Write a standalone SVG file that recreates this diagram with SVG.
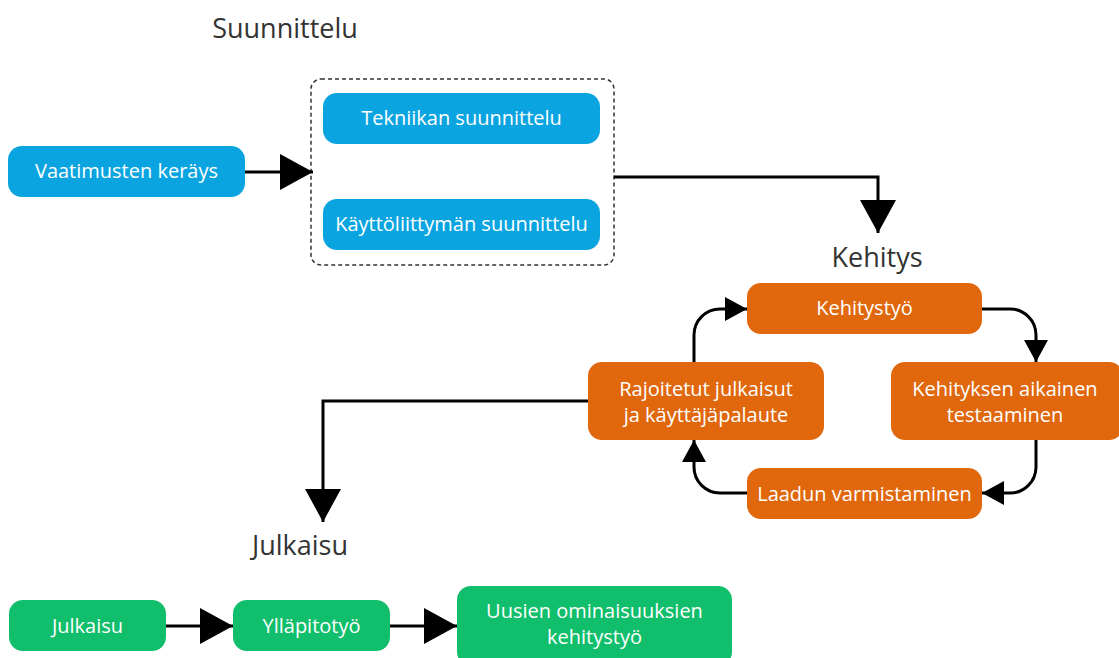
<svg xmlns="http://www.w3.org/2000/svg" width="1119" height="658" viewBox="0 0 1119 658">
  <style>
    .node text { font-family: "Open Sans", "Noto Sans", sans-serif; font-size: 20px; fill: #ffffff; text-anchor: middle; }
    .blue rect { fill: #0aa5e0; }
    .orange rect { fill: #e0670c; }
    .green rect { fill: #10be6b; }
    .heading { font-family: "Open Sans", "Noto Sans", sans-serif; font-size: 27px; fill: #333333; text-anchor: middle; }
    .conn { fill: none; stroke: #000000; stroke-width: 3; }
    .big { marker-end: url(#bigArrow); }
    .small { marker-end: url(#smallArrow); }
  </style>
  <defs>
    <marker id="bigArrow" markerUnits="userSpaceOnUse" markerWidth="34" markerHeight="38" refX="33" refY="19" orient="auto">
      <path d="M0,1 L33,19 L0,37 z" fill="#000"/>
    </marker>
    <marker id="smallArrow" markerUnits="userSpaceOnUse" markerWidth="23" markerHeight="26" refX="22" refY="13" orient="auto">
      <path d="M0,1 L22,13 L0,25 z" fill="#000"/>
    </marker>
  </defs>
  <rect width="1119" height="658" fill="#ffffff"/>

  <!-- phase headings -->
  <text class="heading" x="285" y="38">Suunnittelu</text>
  <text class="heading" x="877" y="267">Kehitys</text>
  <text class="heading" x="300" y="555">Julkaisu</text>

  <!-- design group frame -->
  <rect id="design-group" x="311" y="79" width="303" height="186" rx="10" fill="none" stroke="#333" stroke-width="1.5" stroke-dasharray="4,3"/>

  <!-- connectors -->
  <g id="connectors">
    <path class="conn big" d="M245,172 H313"/>
    <path class="conn big" d="M614,177 H878 V233"/>
    <path class="conn small" d="M982,309 H1010 A26,26 0 0 1 1036,335 V362"/>
    <path class="conn small" d="M1036,440 V467 A26,26 0 0 1 1010,493 H982"/>
    <path class="conn small" d="M747,493 H720 A26,26 0 0 1 694,467 V440"/>
    <path class="conn small" d="M694,362 V335 A26,26 0 0 1 720,309 H747"/>
    <path class="conn big" d="M588,401 H323 V522"/>
    <path class="conn big" d="M166,626 H233"/>
    <path class="conn big" d="M390,626 H457"/>
  </g>

  <!-- design -->
  <g id="vaatimusten" class="node blue">
    <rect x="8" y="146" width="237" height="51" rx="14"/>
    <text x="126.5" y="178">Vaatimusten keräys</text>
  </g>
  <g id="tekniikan" class="node blue">
    <rect x="323" y="93" width="277" height="51" rx="14"/>
    <text x="461.5" y="125">Tekniikan suunnittelu</text>
  </g>
  <g id="kayttoliittyman" class="node blue">
    <rect x="323" y="199" width="277" height="51" rx="14"/>
    <text x="461.5" y="231">Käyttöliittymän suunnittelu</text>
  </g>

  <!-- development loop -->
  <g id="kehitystyo" class="node orange">
    <rect x="747" y="283" width="235" height="51" rx="14"/>
    <text x="864.5" y="315">Kehitystyö</text>
  </g>
  <g id="testaaminen" class="node orange">
    <rect x="891" y="362" width="232" height="78" rx="14"/>
    <text x="1005" y="396">Kehityksen aikainen</text>
    <text x="1005" y="422">testaaminen</text>
  </g>
  <g id="laadun" class="node orange">
    <rect x="747" y="468" width="235" height="51" rx="14"/>
    <text x="864.5" y="501">Laadun varmistaminen</text>
  </g>
  <g id="rajoitetut" class="node orange">
    <rect x="588" y="362" width="236" height="78" rx="14"/>
    <text x="706" y="396">Rajoitetut julkaisut</text>
    <text x="706" y="422">ja käyttäjäpalaute</text>
  </g>

  <!-- release -->
  <g id="julkaisu" class="node green">
    <rect x="9" y="600" width="157" height="51" rx="14"/>
    <text x="87.5" y="633">Julkaisu</text>
  </g>
  <g id="yllapitotyo" class="node green">
    <rect x="233" y="600" width="157" height="51" rx="14"/>
    <text x="311.5" y="633">Ylläpitotyö</text>
  </g>
  <g id="uusien" class="node green">
    <rect x="457" y="586" width="275" height="80" rx="14"/>
    <text x="594.5" y="618">Uusien ominaisuuksien</text>
    <text x="594.5" y="644">kehitystyö</text>
  </g>
</svg>
